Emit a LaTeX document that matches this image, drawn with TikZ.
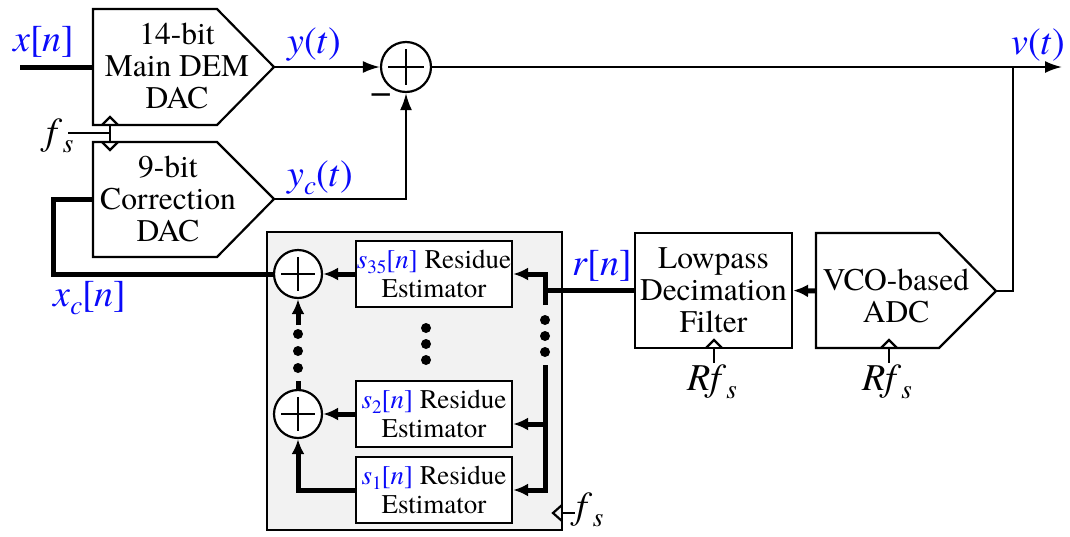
\documentclass[tikz,border=0pt]{standalone}
\usepackage{fontspec}
\setmainfont{texgyretermes}[Extension=.otf, UprightFont=*-regular, ItalicFont=*-italic, BoldFont=*-bold, BoldItalicFont=*-bolditalic]
\usetikzlibrary{arrows.meta}
\definecolor{boxgray}{RGB}{242,242,242}
\definecolor{lblue}{RGB}{10,10,250}
\newcommand\labsub[1]{\raisebox{-0.22em}{\fontsize{27}{27}\selectfont #1}}
\newcommand\estsub[1]{\raisebox{-0.2em}{\fontsize{19}{19}\selectfont #1}}
\begin{document}
\begin{tikzpicture}[x=1pt,y=-1pt,
  thinl/.style={line width=2.2pt},
  busl/.style={line width=5pt},
  arr/.style={-{Latex[length=17pt,width=12pt]}},
  barr/.style={-{Latex[length=15pt,width=13pt]}},
  lbl/.style={text=lblue, inner sep=0pt, font=\fontsize{38}{40}\selectfont},
  clk/.style={font=\fontsize{38}{40}\selectfont, inner sep=0pt},
  blk/.style={align=center, inner sep=0pt, font=\fontsize{31.5}{32}\selectfont},
  est/.style={draw, thinl, fill=white, minimum width=156pt, minimum height=66pt, inner sep=0pt, align=center, font=\fontsize{27}{29}\selectfont},
  sumc/.style={draw, thinl, circle, inner sep=0pt, minimum size=48pt, fill=white,
    path picture={\draw[line width=2.2pt] ([xshift=7pt]path picture bounding box.west) -- ([xshift=-7pt]path picture bounding box.east);
                  \draw[line width=2.2pt] ([yshift=-7pt]path picture bounding box.north) -- ([yshift=7pt]path picture bounding box.south);}},
  dot/.style={circle, fill=black, inner sep=0pt, minimum size=10pt},
]
\useasboundingbox (0,0) rectangle (1070,536);

% gray estimator box
\node[draw, thinl, fill=boxgray, minimum width=295pt, minimum height=298pt, inner sep=0pt] (gbox) at (414.5,381) {};

% main DAC
\draw[thinl] (93,9) -- (217,9) -- (274,67) -- (217,125) -- (93,125) -- cycle;
\node[blk] (mdac) at (177,66) {14-bit\\Main DEM\\DAC};
\coordinate (mdacin) at (93,67);
\coordinate (mdacout) at (274,67);

% correction DAC
\draw[thinl] (93,142) -- (217,142) -- (274,199) -- (217,257) -- (93,257) -- cycle;
\node[blk] (cdac) at (168,199) {9-bit\\Correction\\DAC};
\coordinate (cdacin) at (93,199);
\coordinate (cdacout) at (274,199);

% DAC clock
\draw[thinl] (102,125) -- (110,117) -- (118,125);
\draw[thinl] (102,142) -- (110,150) -- (118,142);
\draw[thinl] (110,125) -- (110,142);
\coordinate (fsend) at (68,133);
\coordinate (fsj) at (110,133);
\draw[thinl] (fsend) -- (fsj);
\node[clk] (fs1) at (60,136) {\textit{f}\labsub{\textit{s}}};

% input
\coordinate (xin) at (20,67);
\draw[busl] (xin) -- (mdacin);
\node[lbl] (xlab) at (44,42) {\textit{x}[\textit{n}]};

% summer
\node[sumc, minimum size=50pt] (sum1) at (406,67) {};
\draw[thinl,arr] (mdacout) -- (sum1.west);
\node[lbl] (ylab) at (314,45) {\textit{y}(\textit{t})};
\node[clk] (minus) at (381,99) {−};
\draw[thinl,arr] (cdacout) -- (sum1.south |- cdacout) -- (sum1.south);
\node[lbl] (yclab) at (320,178) {\textit{y}\labsub{\textit{c}}(\textit{t})};

% output
\coordinate (vout) at (1062,67);
\draw[thinl,arr] (sum1.east) -- (vout);
\node[lbl] (vlab) at (1038,45) {\textit{v}(\textit{t})};
\coordinate (tap) at (1013,67);

% ADC
\draw[thinl] (816,233) -- (939,233) -- (996,291) -- (939,348) -- (816,348) -- cycle;
\node[blk] (adc) at (896,296) {VCO-based\\ADC};
\coordinate (adcout) at (996,291);
\coordinate (adcin) at (816,291);
\draw[thinl] (tap) -- (tap |- adcout) -- (adcout);

% LPF
\node[blk, draw, thinl, minimum width=157pt, minimum height=115pt] (lpf) at (713.5,290.5) {Lowpass\\Decimation\\Filter};
\draw[busl,barr] (adcin) -- (lpf.east);

% clocks
\draw[thinl] (706,348) -- (714,340) -- (722,348);
\draw[thinl] (714,348) -- (714,363);
\node[clk] (rfs1) at (712,382) {\textit{Rf}\labsub{\textit{s}}};
\draw[thinl] (881,348) -- (889,340) -- (897,348);
\draw[thinl] (889,348) -- (889,363);
\node[clk] (rfs2) at (887,382) {\textit{Rf}\labsub{\textit{s}}};

% estimators
\node[est] (s35) at (434,274) {\textcolor{lblue}{\textit{s}\estsub{35}[\textit{n}]} Residue\\Estimator};
\node[est] (s2) at (434,414) {\textcolor{lblue}{\textit{s}\estsub{2}[\textit{n}]} Residue\\Estimator};
\node[est] (s1) at (434,490) {\textcolor{lblue}{\textit{s}\estsub{1}[\textit{n}]} Residue\\Estimator};
\node[dot] (md1) at (426,328) {};
\node[dot] (md2) at (426,344) {};
\node[dot] (md3) at (426,360) {};

% r[n] and bus
\coordinate (busj) at (545,290.5);
\draw[busl] (lpf.west) -- (busj);
\node[lbl] (rlab) at (602,266) {\textit{r}[\textit{n}]};
\coordinate (bt) at (545,305);
\coordinate (btop) at (545,274);
\draw[busl,barr] (bt) -- (btop) -- (s35.east);
\node[dot] (bd1) at (545,320) {};
\node[dot] (bd2) at (545,336) {};
\node[dot] (bd3) at (545,352) {};
\coordinate (bb) at (545,365);
\coordinate (b2) at (545,424);
\coordinate (b1) at (545,490);
\draw[busl,barr] (bb) -- (b1) -- (s1.east);
\draw[busl,barr] (b2) -- (b2 -| s2.east);

% adders
\node[sumc] (sum35) at (298,274) {};
\node[sumc] (sum2) at (298,414) {};
\draw[busl,barr] (s35.west) -- (sum35.east);
\draw[busl,barr] (s2.west) -- (sum2.east);
\draw[busl,barr] (s1.west) -- (s1.west -| sum2) -- (sum2.south);
\coordinate (ct) at (298,381);
\draw[busl] (sum2.north) -- (ct);
\node[dot] (cd1) at (298,368) {};
\node[dot] (cd2) at (298,351) {};
\node[dot] (cd3) at (298,334) {};
\coordinate (cb) at (298,325);
\draw[busl,barr] (cb) -- (sum35.south);

% xc feedback
\coordinate (xc1) at (53,274);
\coordinate (xc2) at (53,199);
\draw[busl] (sum35.west) -- (xc1) -- (xc2) -- (cdacin);
\node[lbl] (xclab) at (90,298) {\textit{x}\labsub{\textit{c}}[\textit{n}]};

% gray box clock
\draw[thinl] (562,505) -- (553,513) -- (562,521);
\coordinate (gck) at (562,513);
\coordinate (gcke) at (575,513);
\draw[thinl] (gck) -- (gcke);
\node[clk] (fs2) at (590,510) {\textit{f}\labsub{\textit{s}}};
\end{tikzpicture}
\end{document}
